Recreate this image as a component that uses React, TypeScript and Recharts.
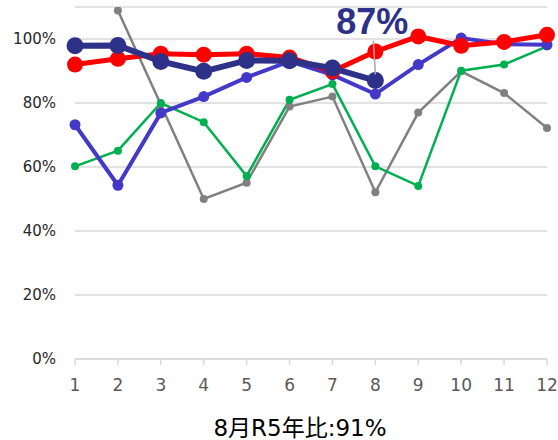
import React from 'react';
import { LineChart, Line, XAxis, YAxis, CartesianGrid, Label, LabelList } from 'recharts';

const months = ['1', '2', '3', '4', '5', '6', '7', '8', '9', '10', '11', '12'];
const grayVals: (number | null)[] = [null, 108.9, 79.5, 50.0, 55.1, 78.9, 82.0, 52.1, 77.0, 89.9, 83.1, 72.2];
const greenVals = [60.2, 65.1, 80.0, 74.0, 57.2, 81.0, 85.9, 60.2, 54.1, 90.1, 92.0, 97.7];
const blueVals = [73.2, 54.3, 76.9, 82.0, 88.0, 93.0, 88.8, 82.8, 92.0, 100.3, 98.4, 98.2];
const redVals = [92.0, 93.8, 95.4, 95.1, 95.4, 94.2, 89.9, 96.1, 100.8, 97.9, 99.1, 101.3];
const navyVals: (number | null)[] = [97.9, 98.0, 93.0, 89.9, 93.3, 93.2, 90.9, 87.0, null, null, null, null];
const yTicks = [0, 20, 40, 60, 80, 100];
const xTitle = '8月R5年比:91%';
const highlightIndex = 7;

const data = months.map((m, i) => ({
  m,
  gray: grayVals[i],
  green: greenVals[i],
  blue: blueVals[i],
  red: redVals[i],
  navy: navyVals[i],
}));

const NAVY = '#2E3188';
const RED = '#FF0000';
const BLUE = '#4338C8';
const GREEN = '#00B050';
const GRAY = '#808080';

const NavyLabel = (props: any) => {
  const { x, y, value, index } = props;
  if (index !== highlightIndex || value == null) return null;
  return (
    <g>
      <line x1={x - 2} y1={y - 40} x2={x} y2={y - 6} stroke="#A6A6A6" strokeWidth={1.5} />
      <text
        x={x - 3}
        y={y - 47}
        textAnchor="middle"
        fill={NAVY}
        fontFamily="Liberation Sans, Arial, sans-serif"
        fontWeight="bold"
        fontSize={36}
      >
        {`${Math.round(value)}%`}
      </text>
    </g>
  );
};

export default function App() {
  return (
    <div style={{ position: 'absolute', left: 0, top: 0 }}>
      <LineChart width={558} height={440} data={data} margin={{ top: 7, right: 11, bottom: 0, left: 0 }}>
        <CartesianGrid vertical={false} stroke="#D9D9D9" strokeWidth={1.5} />
        <XAxis
          dataKey="m"
          height={81}
          axisLine={{ stroke: '#D9D9D9', strokeWidth: 1.5 }}
          tickLine={{ stroke: '#D9D9D9', strokeWidth: 1.5 }}
          tickSize={6}
          tickMargin={14}
          tick={{ fill: '#595959', fontSize: 17, fontFamily: 'DejaVu Sans, Verdana, sans-serif' }}
          interval={0}
        >
          <Label
            value={xTitle}
            position="insideBottom"
            offset={4}
            dx={-11}
            fill="#000000"
            fontSize={23}
            fontFamily="DejaVu Sans, Noto Sans CJK JP, sans-serif"
          />
        </XAxis>
        <YAxis
          width={75}
          domain={[0, 110]}
          ticks={yTicks}
          allowDataOverflow
          axisLine={false}
          tickLine={false}
          tickSize={0}
          tickMargin={19}
          tickFormatter={(v: number) => `${v}%`}
          tick={{ fill: '#262626', fontSize: 15, fontFamily: 'DejaVu Sans, Verdana, sans-serif' }}
        />
        <Line
          dataKey="gray"
          stroke={GRAY}
          strokeWidth={2.5}
          dot={{ r: 4, fill: GRAY, stroke: GRAY, strokeWidth: 0 }}
          activeDot={false}
          isAnimationActive={false}
        />
        <Line
          dataKey="green"
          stroke={GREEN}
          strokeWidth={2.5}
          dot={{ r: 4, fill: GREEN, stroke: GREEN, strokeWidth: 0 }}
          activeDot={false}
          isAnimationActive={false}
        />
        <Line
          dataKey="blue"
          stroke={BLUE}
          strokeWidth={4}
          dot={{ r: 5.5, fill: BLUE, stroke: BLUE, strokeWidth: 0 }}
          activeDot={false}
          isAnimationActive={false}
        />
        <Line
          dataKey="red"
          stroke={RED}
          strokeWidth={5}
          dot={{ r: 8, fill: RED, stroke: RED, strokeWidth: 0 }}
          activeDot={false}
          isAnimationActive={false}
        />
        <Line
          dataKey="navy"
          stroke={NAVY}
          strokeWidth={6}
          dot={{ r: 8.5, fill: NAVY, stroke: NAVY, strokeWidth: 0 }}
          activeDot={false}
          isAnimationActive={false}
        >
          <LabelList dataKey="navy" content={NavyLabel} />
        </Line>
      </LineChart>
    </div>
  );
}
